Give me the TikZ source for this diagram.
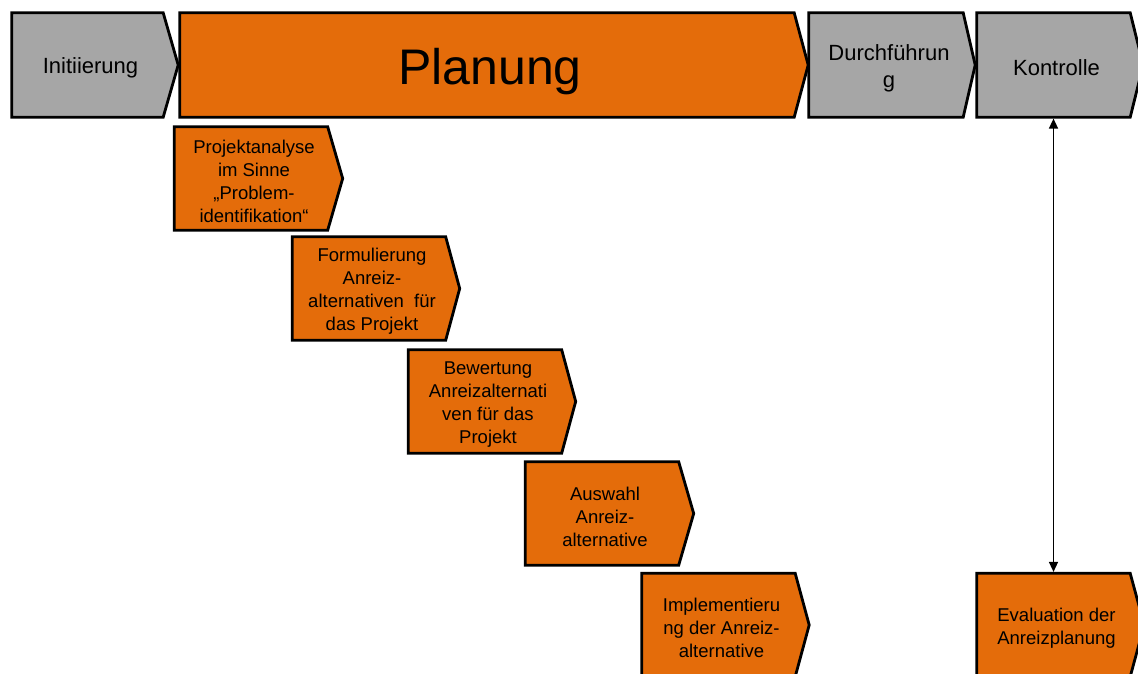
\documentclass[tikz,border=0pt]{standalone}
\usepackage{fontspec}
\setmainfont{Liberation Sans}
\usetikzlibrary{calc,arrows.meta,backgrounds}
\definecolor{pgray}{HTML}{A6A6A6}
\definecolor{porange}{HTML}{E46C0A}
\newcommand{\chevshape}[3]{%
  \path[draw=black,line width=2.8pt,line join=miter,fill=#2]
    (#1.north west) -- (#1.north east) -- ($(#1.east)+(#3,0)$) --
    (#1.south east) -- (#1.south west) -- cycle;}
\begin{document}
\begin{tikzpicture}[x=1pt,y=-1pt,
  body/.style={shape=rectangle,inner sep=0pt},
  txt/.style={align=center,text=black,inner sep=0pt,xshift=3pt,yshift=-3pt},
  toptxt/.style={txt,font=\fontsize{22}{27}\selectfont},
  steptxt/.style={txt,font=\fontsize{18.5}{23}\selectfont},
  phase/.style={body,minimum width=#1,minimum height=104pt},
  stepbox/.style={body,minimum width=153pt,minimum height=103pt},
  link/.style={line width=1.5pt,shorten <=1.4pt,shorten >=1.4pt,
    {Triangle[length=10pt,width=9pt]}-{Triangle[length=10pt,width=9pt]}}]
\useasboundingbox (0,0) rectangle (1138,673);
\clip (0,0) rectangle (1138,673);
% top row
\node[phase=151pt,label={[toptxt]center:Initiierung}] (ini) at (87.5,65) {};
\node[phase=614pt,label={[txt,yshift=-4pt,font=\fontsize{50}{60}\selectfont]center:Planung}] (pla) at (487,65) {};
\node[phase=154pt,label={[toptxt]center:{Durchführun\\g}}] (dur) at (886,65) {};
\node[phase=153pt,label={[toptxt]center:Kontrolle}] (kon) at (1053.5,65) {};
% steps
\node[stepbox,label={[steptxt]center:{Projektanalyse\\im Sinne\\„Problem-\\identifikation“}}] (s1) at (251,178.5) {};
\node[stepbox,label={[steptxt]center:{Formulierung\\Anreiz-\\alternativen~ für\\das Projekt}}] (s2) at (369,288.5) {};
\node[stepbox,label={[steptxt]center:{Bewertung\\Anreizalternati\\ven für das\\Projekt}}] (s3) at (485,401.5) {};
\node[stepbox,label={[steptxt]center:{Auswahl\\Anreiz-\\alternative}}] (s4) at (602,513.5) {};
\node[stepbox,label={[steptxt]center:{Implementieru\\ng der Anreiz-\\alternative}}] (s5) at (718.5,625) {};
\node[stepbox,label={[steptxt]center:{Evaluation der\\Anreizplanung}}] (eva) at (1053.5,625) {};
\begin{pgfonlayer}{background}
  \clip (0,0) rectangle (1138,673);
  \chevshape{ini}{pgray}{15pt}
  \chevshape{pla}{porange}{14pt}
  \chevshape{dur}{pgray}{12pt}
  \chevshape{kon}{pgray}{13pt}
  \chevshape{s1}{porange}{15pt}
  \chevshape{s2}{porange}{14pt}
  \chevshape{s3}{porange}{14pt}
  \chevshape{s4}{porange}{15pt}
  \chevshape{s5}{porange}{14pt}
  \chevshape{eva}{porange}{14pt}
\end{pgfonlayer}
\draw[link] (kon.south) -- (eva.north);
\end{tikzpicture}
\end{document}
